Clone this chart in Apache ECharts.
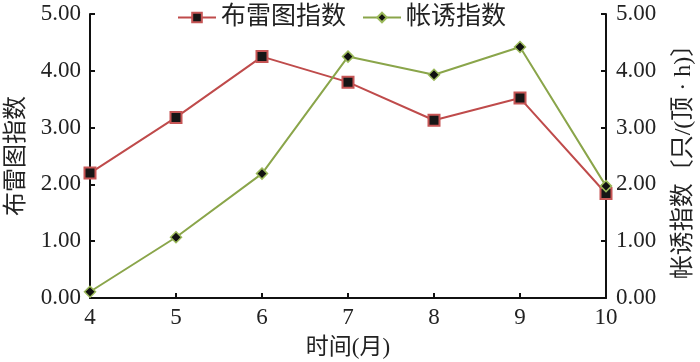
<!DOCTYPE html>
<html>
<head>
<meta charset="utf-8">
<script src="https://cdn.jsdelivr.net/npm/echarts@6/dist/echarts.min.js"></script>
<style>
  html, body { margin: 0; padding: 0; background: #fff; }
  #chart { width: 700px; height: 362px; }
</style>
</head>
<body>
<div id="chart"></div>
<script>
// 月份
var months = [4, 5, 6, 7, 8, 9, 10]
// 布雷图指数
var breteau = [2.20, 3.18, 4.25, 3.80, 3.13, 3.52, 1.84]
// 帐诱指数
var tentTrap = [0.11, 1.07, 2.19, 4.25, 3.93, 4.42, 1.97]

var serif = '"Liberation Serif", "DejaVu Serif", serif'
var cjk = '"Liberation Serif", "Noto Sans CJK SC", serif'

function pairs(vals) {
  return months.map(function (m, i) { return [m, vals[i]] })
}

var chart = echarts.init(document.getElementById('chart'))
chart.setOption({
  animation: false,
  grid: { left: 90, right: 94, top: 14, bottom: 64, outerBoundsMode: 'none', containLabel: false },
  legend: {
    top: 0,
    left: 172,
    itemWidth: 38,
    itemHeight: 12,
    itemGap: 16,
    textStyle: { fontFamily: cjk, fontSize: 25, color: '#222' },
    data: ['布雷图指数', '帐诱指数']
  },
  xAxis: {
    type: 'value',
    min: 4,
    max: 10,
    interval: 1,
    name: '时间(月)',
    nameLocation: 'middle',
    nameGap: 38,
    nameTextStyle: { fontFamily: cjk, fontSize: 23, color: '#222' },
    axisLine: { lineStyle: { color: '#111', width: 2 } },
    axisTick: { inside: true, length: 5, lineStyle: { color: '#111', width: 2 } },
    axisLabel: { fontFamily: serif, fontSize: 23, color: '#222', margin: 8 },
    splitLine: { show: false }
  },
  yAxis: [
    {
      type: 'value',
      min: 0,
      max: 5,
      interval: 1,
      name: '布雷图指数',
      nameLocation: 'middle',
      nameRotate: 90,
      nameGap: 61,
      nameTextStyle: { fontFamily: cjk, fontSize: 24, color: '#222' },
      axisLine: { show: true, lineStyle: { color: '#111', width: 2 } },
      axisTick: { show: true, inside: true, length: 5, lineStyle: { color: '#111', width: 2 } },
      axisLabel: { fontFamily: serif, fontSize: 23, color: '#222', margin: 9, formatter: function (v) { return v.toFixed(2) } },
      splitLine: { show: false }
    },
    {
      type: 'value',
      min: 0,
      max: 5,
      interval: 1,
      position: 'right',
      name: '帐诱指数〔只/(顶 · h)〕',
      nameLocation: 'middle',
      nameRotate: 90,
      nameGap: 66,
      nameTextStyle: { fontFamily: cjk, fontSize: 24, color: '#222' },
      axisLine: { show: true, lineStyle: { color: '#111', width: 2 } },
      axisTick: { show: true, inside: true, length: 5, lineStyle: { color: '#111', width: 2 } },
      axisLabel: { fontFamily: serif, fontSize: 23, color: '#222', margin: 10, formatter: function (v) { return v.toFixed(2) } },
      splitLine: { show: false }
    }
  ],
  series: [
    {
      name: '布雷图指数',
      type: 'line',
      yAxisIndex: 0,
      data: pairs(breteau),
      symbol: 'rect',
      symbolSize: 11,
      lineStyle: { color: '#bf4b4b', width: 2 },
      itemStyle: { color: '#161616', borderColor: '#c65555', borderWidth: 2 }
    },
    {
      name: '帐诱指数',
      type: 'line',
      yAxisIndex: 1,
      data: pairs(tentTrap),
      symbol: 'diamond',
      symbolSize: 11,
      lineStyle: { color: '#8aa54a', width: 2 },
      itemStyle: { color: '#111', borderColor: '#9bb95a', borderWidth: 1.5 }
    }
  ]
})
</script>
</body>
</html>
